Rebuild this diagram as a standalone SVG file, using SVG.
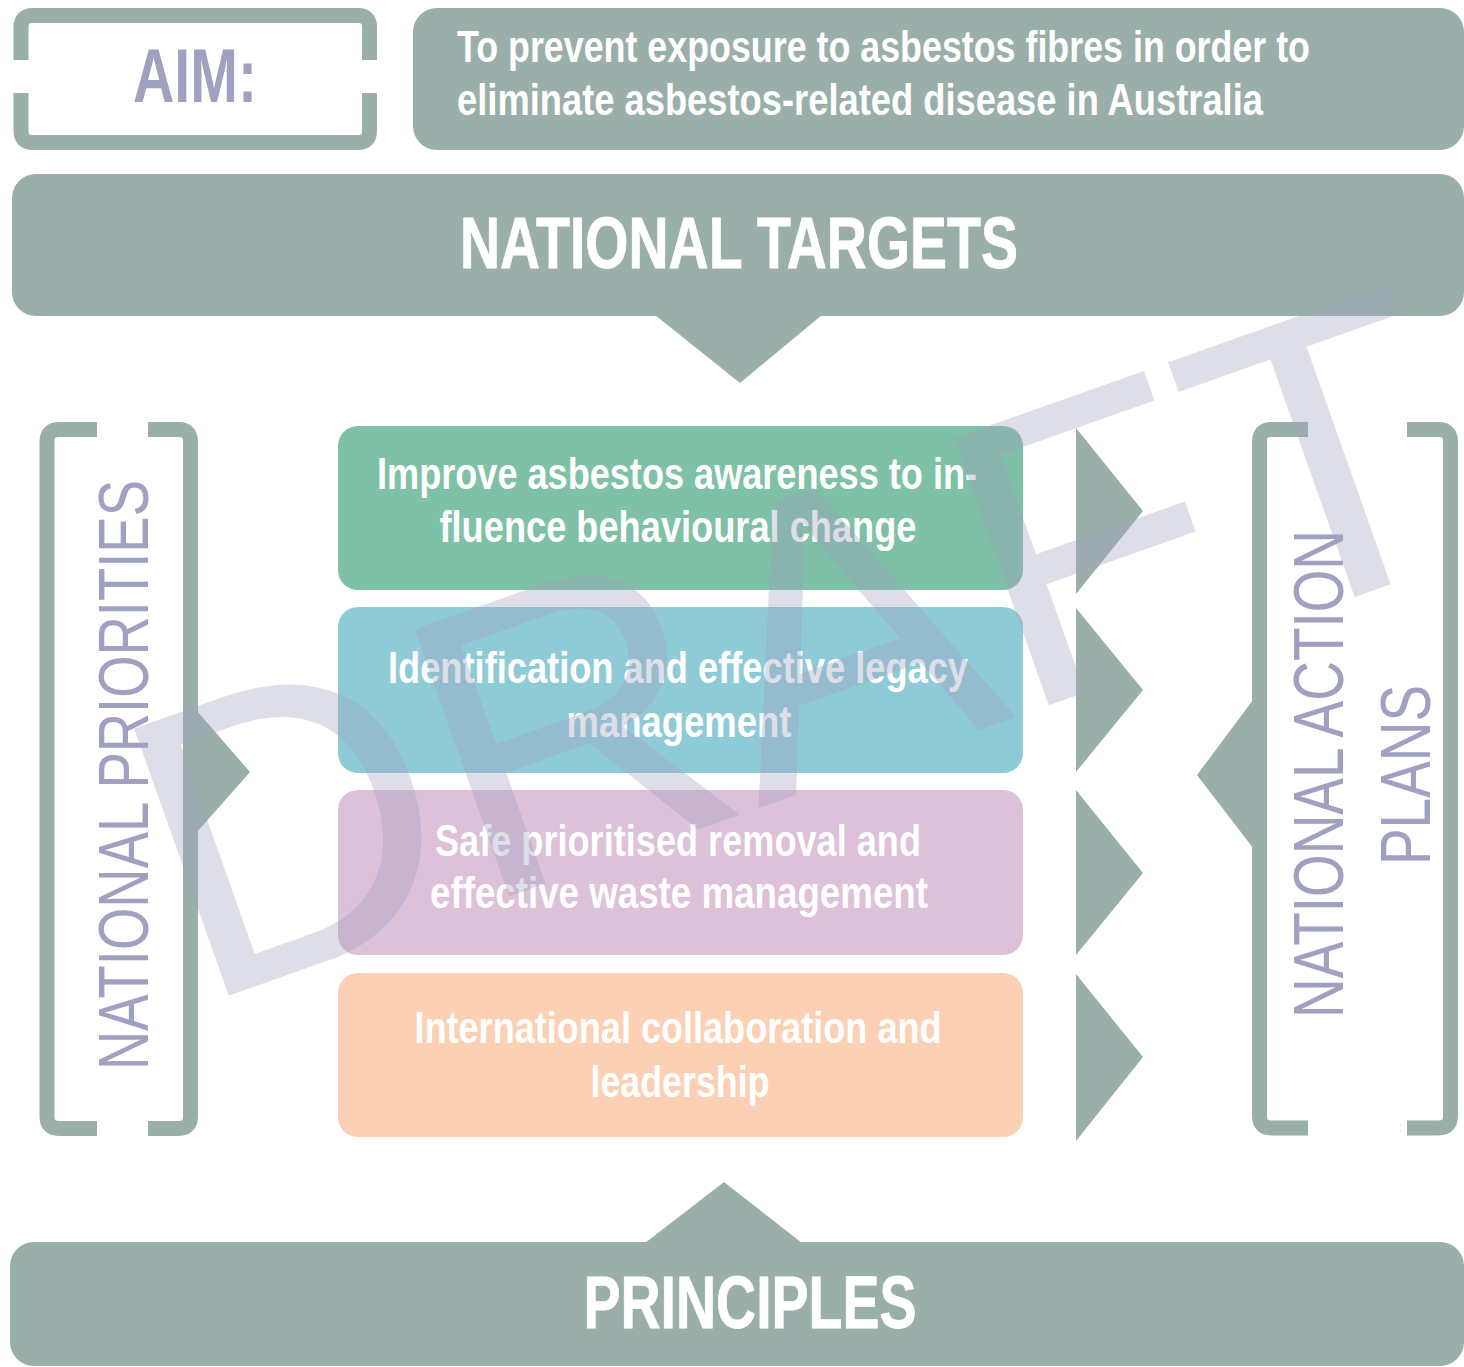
<svg xmlns="http://www.w3.org/2000/svg" width="1464" height="1367" viewBox="0 0 1464 1367">
<style>
.band{fill:#9aafa9}
.frame{fill:none;stroke:#9aafa9;stroke-width:15;stroke-linecap:butt}
.wt{fill:#ffffff;font-family:"Liberation Sans",Arial,sans-serif;font-weight:bold}
.box{font-family:"Liberation Sans",Arial,sans-serif;font-weight:bold;font-size:45px;fill:#ffffff;text-anchor:middle}
.lav{fill:#a0a0c0;font-family:"Liberation Sans",Arial,sans-serif}
.tri{fill:#9aafa9}
</style>
<rect width="1464" height="1367" fill="#ffffff"/>

<g id="aim-label">
<path class="frame" d="M21 60 V27 Q21 15.5 33 15.5 H358 Q369.5 15.5 369.5 27 V60 M21 93 V131 Q21 142.5 33 142.5 H358 Q369.5 142.5 369.5 131 V93"/>
<text class="lav" x="195" y="102" font-size="76" font-weight="bold" text-anchor="middle" textLength="124" lengthAdjust="spacingAndGlyphs">AIM:</text>
</g>

<g id="aim-statement">
<rect class="band" x="413" y="8" width="1051" height="142" rx="24"/>
<text class="wt" x="457" y="62" font-size="44" textLength="853" lengthAdjust="spacingAndGlyphs">To prevent exposure to asbestos fibres in order to</text>
<text class="wt" x="457" y="115" font-size="44" textLength="806" lengthAdjust="spacingAndGlyphs">eliminate asbestos-related disease in Australia</text>
</g>

<g id="national-targets">
<rect class="band" x="12" y="174" width="1452" height="142" rx="24"/>
<text class="wt" x="739" y="268" font-size="72" font-weight="normal" text-anchor="middle" textLength="558" lengthAdjust="spacingAndGlyphs" stroke="#ffffff" stroke-width="0.8">NATIONAL TARGETS</text>
</g>

<g id="national-priorities">
<path class="frame" d="M97 429.5 H59 Q47 429.5 47 441.5 V1116.5 Q47 1128.5 59 1128.5 H97 M148 429.5 H178.5 Q190.5 429.5 190.5 441.5 V1116.5 Q190.5 1128.5 178.5 1128.5 H148"/>
<text class="lav" transform="translate(148,775) rotate(-90)" x="0" y="0" font-size="71" text-anchor="middle" textLength="590" lengthAdjust="spacingAndGlyphs">NATIONAL PRIORITIES</text>
</g>

<g id="national-action-plans">
<path class="frame" d="M1308 429.5 H1271.5 Q1259.5 429.5 1259.5 441.5 V1116 Q1259.5 1128 1271.5 1128 H1308 M1407 429.5 H1438.5 Q1450.5 429.5 1450.5 441.5 V1116 Q1450.5 1128 1438.5 1128 H1407"/>
<text class="lav" transform="translate(1343,774) rotate(-90)" x="0" y="0" font-size="71" text-anchor="middle" textLength="488" lengthAdjust="spacingAndGlyphs">NATIONAL ACTION</text>
<text class="lav" transform="translate(1430,775) rotate(-90)" x="0" y="0" font-size="71" text-anchor="middle" textLength="180" lengthAdjust="spacingAndGlyphs">PLANS</text>
</g>

<g id="priority-1">
<rect x="338" y="426" width="685" height="164" rx="20" fill="#7ec1a6"/>
<text class="box" x="677" y="489" textLength="600" lengthAdjust="spacingAndGlyphs">Improve asbestos awareness to in-</text>
<text class="box" x="678" y="542" textLength="477" lengthAdjust="spacingAndGlyphs">fluence behavioural change</text>
</g>

<g id="priority-2">
<rect x="338" y="607" width="685" height="166" rx="20" fill="#8fcbd6"/>
<text class="box" x="678" y="683" textLength="580" lengthAdjust="spacingAndGlyphs">Identification and effective legacy</text>
<text class="box" x="679" y="737" textLength="225" lengthAdjust="spacingAndGlyphs">management</text>
</g>

<g id="priority-3">
<rect x="338" y="790" width="685" height="165" rx="20" fill="#dcc1d8"/>
<text class="box" x="678" y="856" textLength="486" lengthAdjust="spacingAndGlyphs">Safe prioritised removal and</text>
<text class="box" x="679" y="908" textLength="498" lengthAdjust="spacingAndGlyphs">effective waste management</text>
</g>

<g id="priority-4">
<rect x="338" y="973" width="685" height="164" rx="20" fill="#fbd0b4"/>
<text class="box" x="678" y="1043" textLength="527" lengthAdjust="spacingAndGlyphs">International collaboration and</text>
<text class="box" x="680" y="1097" textLength="179" lengthAdjust="spacingAndGlyphs">leadership</text>
</g>

<g id="principles">
<rect class="band" x="10" y="1242" width="1454" height="124" rx="24"/>
<text class="wt" x="750" y="1328" font-size="74" font-weight="normal" text-anchor="middle" textLength="333" lengthAdjust="spacingAndGlyphs" stroke="#ffffff" stroke-width="0.8">PRINCIPLES</text>
</g>

<g id="connectors">
<polygon class="tri" points="655,315 822,315 740,383"/>
<polygon class="tri" points="645,1243 802,1243 724,1182"/>
<polygon class="tri" points="190,703 250,772 190,840"/>
<polygon class="tri" points="1253,700 1197,775 1253,848"/>
<polygon class="tri" points="1076,428 1143,511 1076,594"/>
<polygon class="tri" points="1076,608 1143,690 1076,772"/>
<polygon class="tri" points="1076,790 1143,873 1076,955"/>
<polygon class="tri" points="1076,974 1143,1057 1076,1141"/>
</g>

<g id="watermark">
<text transform="translate(228,996) rotate(-19.5)" x="-33" y="0" font-family="Liberation Sans, Arial, sans-serif" font-size="412" fill="#a0a0c0" fill-opacity="0.35">DRAFT</text>
</g>
</svg>
